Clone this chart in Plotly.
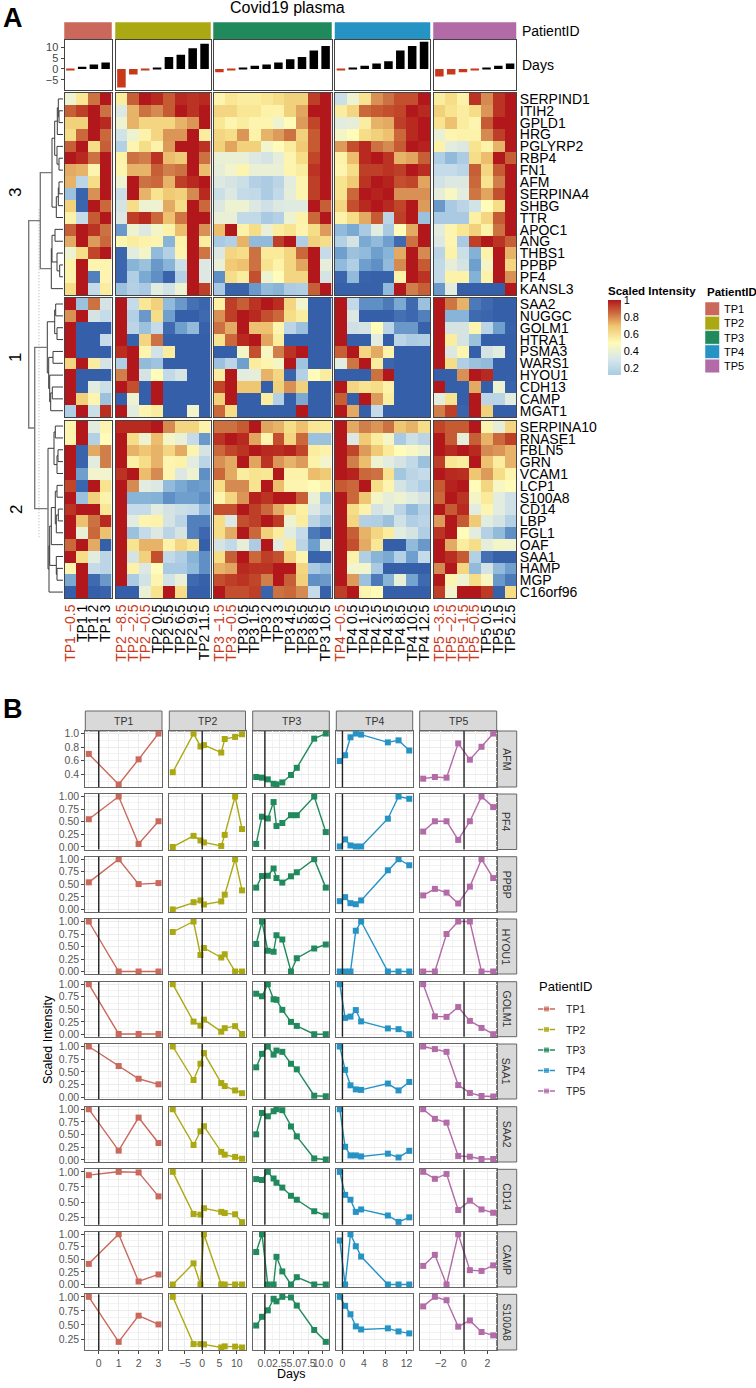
import plotly.graph_objects as go

W, H = 756, 1388

PATIENTS = ["TP1", "TP2", "TP3", "TP4", "TP5"]
PATIENT_COLORS = ["#C9685B", "#ABA913", "#218A5C", "#2693C5", "#B26BA6"]

# sampling days per patient (heatmap columns, bars and line x values)
DAYS_TP1 = [-0.5, 1, 2, 3]
DAYS_TP2 = [-8.5, -2.5, -0.5, 0.5, 5.5, 6.5, 9.5, 11.5]
DAYS_TP3 = [-1.5, -0.5, 0.5, 1.5, 2, 3, 4.5, 5.5, 8.5, 10.5]
DAYS_TP4 = [-0.5, 0.5, 1.5, 2.5, 3.5, 8.5, 10.5, 12.5]
DAYS_TP5 = [-3.5, -2.5, -1.5, -0.5, 0.5, 1.5, 2.5]
DAYS = [DAYS_TP1, DAYS_TP2, DAYS_TP3, DAYS_TP4, DAYS_TP5]

GENES_3 = ["SERPIND1", "ITIH2", "GPLD1", "HRG", "PGLYRP2", "RBP4", "FN1", "AFM", "SERPINA4",
           "SHBG", "TTR", "APOC1", "ANG", "THBS1", "PPBP", "PF4", "KANSL3"]
GENES_1 = ["SAA2", "NUGGC", "GOLM1", "HTRA1", "PSMA3", "WARS1", "HYOU1", "CDH13", "CAMP", "MGAT1"]
GENES_2 = ["SERPINA10", "RNASE1", "FBLN5", "GRN", "VCAM1", "LCP1", "S100A8", "CD14", "LBP",
           "FGL1", "OAF", "SAA1", "HAMP", "MGP", "C16orf96"]
CLUSTERS = ["3", "1", "2"]

# heatmap values, one row per gene in the order above
HEAT_TP1 = [
    [.45, .57, .83, 1], [.87, .93, 1, .83], [.63, .63, 1, .97], [.6, .85, 1, .85], [.87, 1, .6, .87],
    [1, .97, .83, 1], [.72, .7, .52, 1], [.7, .3, .6, 1], [.22, .02, .77, 1], [.63, .03, 1, .85],
    [.53, .33, .88, 1], [.87, 1, .95, .83], [.72, 1, .75, .85], [.45, .6, .92, 1], [.53, 1, .52, .52],
    [.53, 1, .08, .52], [.6, 1, .33, .55],
    [1, .22, .83, .38], [.77, 1, .38, .33], [1, 0, 0, 0], [1, 0, 0, .33], [1, 0, 0, 0],
    [.62, 1, .55, .38], [1, 0, 0, 0], [1, 0, .42, .35], [1, .63, .52, .22], [.27, 1, .35, .96],
    [.52, 1, .42, .52], [.52, 1, .28, .5], [1, .02, .72, .8], [1, .02, .42, .8], [1, .13, .46, .46],
    [.92, .03, 1, .58], [1, .22, .63, .53], [.95, 1, 1, .57], [1, .67, .83, .97], [1, .44, .85, .67],
    [.85, 1, .72, 0], [1, .6, .42, .3], [.52, 1, .33, .3], [.15, 1, .05, .12], [0, 1, 0, .02],
]
HEAT_TP2 = [
    [.55, .87, 1, .97, .88, .97, .95, .97], [.4, .7, .83, .78, .88, 1, .95, 1],
    [.45, .7, .62, .62, .62, .7, .76, 1], [.37, .45, .53, .62, .76, .76, 1, .55],
    [.28, .52, .6, .53, .75, 1, 1, .95], [.53, .83, .8, .95, .68, .65, 1, .83],
    [.52, .7, .7, .87, .8, .83, 1, .68], [.45, 1, .83, .85, .7, .93, .97, 1],
    [.35, 1, .7, .58, .65, .63, .78, .97], [.38, .6, .45, .45, .72, .6, 1, .85],
    [.4, .93, .97, .85, .67, .82, 1, 1], [.12, .45, .4, .47, .53, .68, 1, .77],
    [.52, .55, .53, .52, .18, .53, 1, .55], [.03, .42, .47, .2, .28, .52, 1, .82],
    [.03, .18, .22, .12, .18, .35, 1, .4], [.03, .27, .15, .1, .02, .28, 1, .4],
    [.22, .28, .25, .42, .37, .45, 1, .93],
    [1, .33, .57, .63, .2, .12, .06, .03], [1, .28, .12, .6, .13, 0, 0, .05],
    [1, .3, .22, .33, .05, .13, .2, .01], [1, .01, .62, .83, 0, 0, 0, 0],
    [.96, 1, .52, .37, .55, 0, 0, 0], [.27, 1, .2, .23, 0, 0, 0, 0],
    [.8, 1, .38, .5, .32, .38, 0, 0], [1, .9, 0, 1, 0, 0, 0, 0],
    [0, .45, 0, 1, 0, 0, 0, 0], [1, .42, .52, .55, 0, 0, .46, 0],
    [.97, .97, .97, 1, .78, .62, .62, .53], [1, .6, .45, .68, .47, .44, .33, .12],
    [1, .7, .66, .7, .62, .72, .52, .38], [1, .54, .6, .7, .52, .53, .42, .3],
    [.95, 1, .68, .78, .52, .4, .45, .1], [1, .78, .42, .4, .2, .15, .12, .13],
    [1, .18, .18, .17, .1, .13, .13, .1], [1, .33, .33, .42, .38, .35, .33, .2],
    [1, .42, .52, .53, .38, .3, .08, .08], [1, .22, .33, .4, .3, .38, .08, .04],
    [1, .58, .7, .7, .53, .62, .57, 0], [1, .38, .63, .9, .32, .27, .18, .1],
    [1, .53, .4, .5, .25, .25, .2, .1], [1, .26, .37, .52, .37, .44, .05, .01],
    [0, 0, .44, .58, 1, .6, 0, 0],
]
HEAT_TP3 = [
    [.52, .57, .55, .55, .57, .6, .63, .63, .93, 1], [.62, .62, .57, .57, .53, .53, .63, .73, 1, 1],
    [.57, .52, .55, .52, .52, .45, .5, .75, .92, 1], [.62, .6, .76, .53, .7, .75, .83, .63, .88, 1],
    [.63, .73, .63, .63, .46, .5, .55, .65, .88, 1], [.44, .44, .44, .4, .38, .43, .52, .6, .92, 1],
    [.43, .46, .52, .44, .44, .44, .52, .55, .95, 1], [.4, .38, .35, .28, .26, .3, .42, .52, .93, 1],
    [.35, .4, .33, .32, .26, .32, .43, .52, .93, 1], [.4, .45, .45, .4, .36, .4, .41, .41, 1, .87],
    [.44, .44, .32, .32, .25, .28, .45, .53, .85, 1], [.68, 1, .53, .6, .44, .55, .58, .52, .6, .75],
    [.25, .28, .7, .2, .2, .93, 1, .27, .63, .6], [.4, .62, .6, .83, .56, .56, .62, .85, 1, .33],
    [.44, .65, .67, .83, .58, .53, .62, .73, 1, .43], [.1, .6, .55, .9, .45, .5, .62, .62, 1, .38],
    [.25, .02, .02, .12, .2, .18, .26, .27, .87, 1],
    [.54, .93, .87, .95, 1, .96, .62, .46, 0, 0], [.77, .93, 1, .97, .9, .85, .6, .55, 0, 0],
    [.83, .72, 1, .67, .67, .52, .3, .22, 0, 0], [.58, .85, .97, 1, .73, .55, 0, 0, 0, 0],
    [0, 0, .47, .9, .48, .8, .95, 1, 0, 0], [.22, .3, .13, .55, .52, .47, 1, .23, 0, 0],
    [.55, 1, .42, .43, .7, .62, .02, .28, .5, .55], [.92, 1, .66, .66, 0, .63, .77, .63, 0, 0],
    [.63, 1, 0, 0, .55, .28, 0, .15, 0, 0], [.85, .6, 0, 0, 0, 0, 0, 1, 0, 0],
    [.83, .83, .88, 1, .73, .7, .6, .67, .57, .56], [.95, 1, .97, .73, .52, .9, .62, .85, .22, .22],
    [.85, .92, .95, 1, .97, .96, .98, .92, .55, .53], [.77, .72, 1, .73, .95, .76, .7, .75, .53, .46],
    [.85, .72, .55, .58, .57, 1, .53, .53, .68, .65], [.6, .78, .78, .58, 1, .68, .52, .52, .5, .53],
    [.52, .62, .76, .98, .95, 1, 1, .87, .44, .24], [.9, .9, 1, .93, .85, .72, .6, .54, .4, .32],
    [.6, .4, .9, .93, 1, .94, .45, .55, .3, .22], [.6, .72, 1, .85, .63, .55, .42, .33, .07, .02],
    [.38, .32, .43, .26, 1, .42, .55, .3, .13, .42], [.6, .87, 1, .85, .93, .9, .63, .52, .02, .02],
    [.7, .73, .97, .95, .95, 1, 1, .62, .25, .2], [.9, .93, .95, .92, .8, 1, .87, .63, .1, .12],
    [1, .9, .9, .93, .02, .83, .85, .78, .33, .01],
]
HEAT_TP4 = [
    [.35, .45, .58, .77, .83, .9, .9, 1], [.55, .62, .85, .88, .9, .92, 1, .97],
    [.42, .43, .55, .7, .72, .93, .97, 1], [.47, .5, .6, .63, .67, .85, .97, 1],
    [.75, .9, .97, .83, .78, .88, 1, .98], [.53, .68, .97, 1, .95, .7, .73, .87],
    [.52, .6, .93, .93, .95, .93, 1, .96], [.58, .65, .95, 1, .98, .9, .92, .73],
    [.58, .85, 1, .98, 1, .77, .77, .77], [.62, .9, .97, 1, .97, .92, 1, .75],
    [.53, .6, .72, .88, .3, .93, 1, .22], [.2, .15, .25, .42, .25, .5, .72, 1],
    [.28, .38, .15, .2, .13, .05, .83, 1], [.13, .22, .2, .13, .18, .72, 1, .78],
    [.2, .27, .13, .1, .2, .78, 1, .88], [.03, .2, .02, .01, .01, .53, 1, .95],
    [.01, .01, .01, .01, .2, 1, .8, .87],
    [1, .32, .1, .1, .07, .15, .05, .22], [1, .4, 0, 0, 0, .06, .04, .08],
    [1, .36, .38, .5, .3, .12, .12, .01], [1, 0, 0, .42, 0, .3, .26, .27],
    [.87, 1, .62, .72, .53, 0, 0, 0], [.42, .82, 1, .55, .03, 0, 0, 0],
    [0, 0, 0, .83, 1, 0, 0, 0], [1, .62, .58, .6, .53, 0, 0, 0],
    [.87, 0, 1, .75, .55, 0, 0, 0], [1, .72, 0, .33, 0, 0, 0, 0],
    [1, .72, .8, .76, .83, .66, .7, .6], [1, .4, .65, .55, .47, .25, .35, .3],
    [1, .92, .75, .65, .56, .5, .48, .45], [1, .8, .68, .45, .42, .38, .32, .22],
    [1, .98, .85, .83, .58, .24, .3, .33], [.88, .85, 1, .6, .52, .38, .32, .27],
    [1, .85, .66, .47, .43, .45, .42, .38], [1, .6, .53, .38, .42, .3, .2, .28],
    [1, .62, .28, .27, .22, .36, .27, .3], [1, .87, .7, .62, .55, .42, .38, .27],
    [1, .9, .72, .57, 0, 0, .2, .12], [1, .53, .27, .18, .15, .28, .13, .33],
    [1, .46, .46, .25, 0, 0, 0, 0], [1, .75, .22, .07, .18, .44, .14, .05],
    [.93, 1, .52, .5, 0, 0, 0, 0],
]
HEAT_TP5 = [
    [.55, .6, .53, .95, .78, .95, 1], [.63, .58, .55, .6, .76, .95, 1], [.58, .67, .55, .52, .88, 1, 1],
    [.44, .52, .53, .53, .78, .93, 1], [.53, .42, .4, .58, .53, .7, 1], [.27, .2, .26, .6, .68, 1, .87],
    [.33, .33, .3, .87, .62, .88, 1], [.37, .4, .4, .85, .58, .8, 1], [.43, .48, .42, .82, .73, .9, 1],
    [.12, .25, .3, .37, .5, .6, 1], [.25, .25, .25, .54, .62, .88, 1], [.42, .52, .57, .63, .53, .83, 1],
    [.4, .52, .25, .93, 1, .95, .87], [.3, .53, .35, .17, .53, 1, .7], [.32, .43, .38, .13, .47, 1, .62],
    [.32, .53, .53, .17, .53, 1, .77], [.12, .42, 0, 0, 0, 0, 1],
    [1, .82, .7, .07, .05, 0, 0], [1, .18, .18, .05, .03, 0, 0], [1, .38, .38, .52, .3, .13, .01],
    [1, .55, .38, .22, 0, 0, 0], [1, .4, .52, 0, .38, .42, 0], [1, .6, .27, .22, .2, 0, 0],
    [0, 0, .77, 1, .97, 0, 0], [1, 0, 0, .72, 0, .45, .02], [.42, .58, 0, 1, .3, .3, .42],
    [.8, .93, .02, 1, .63, 0, 0],
    [.92, .88, .88, 1, .52, .43, .62], [1, .88, .43, .87, .7, .85, .93], [1, .97, 1, .97, .78, .76, .7],
    [.93, .57, .55, 1, .67, .55, .7], [1, .97, .96, .66, .75, .6, .52], [.88, .98, 1, .5, .62, .48, .5],
    [.85, 1, .95, .47, .56, .42, .36], [1, .88, .97, .42, .52, .42, .36], [.75, 1, .88, .65, .42, .38, .28],
    [.95, 1, .5, .42, .28, .2, .1], [1, .72, .55, .6, .43, .47, .46], [1, .96, .88, .28, .06, .01, .01],
    [.78, 1, .62, .2, .38, .2, .13], [1, .52, .45, .6, .48, .12, .07], [.93, .46, 1, 1, .94, .01, .6],
]
HEAT = [HEAT_TP1, HEAT_TP2, HEAT_TP3, HEAT_TP4, HEAT_TP5]

HEAT_SCALE = [
    [0, "#3560A9"], [.05, "#3F6AB0"], [.1, "#5F8FC4"], [.16, "#7FAED4"], [.25, "#A9CAE2"],
    [.33, "#C5DBE9"], [.42, "#E2ECDF"], [.5, "#FFFBB9"], [.58, "#F8E490"], [.66, "#EFC671"],
    [.74, "#DFA05E"], [.8, "#D07F4A"], [.87, "#C75F36"], [.94, "#BD3A24"], [1, "#B2171B"],
]
LEGEND_SCALE = [[0, "#A8CBE2"], [.2, "#D5E6EC"], [.43, "#FFFBB9"], [.65, "#EFC671"], [.83, "#CC6A3C"], [1, "#B2171B"]]

# dendrogram: (height, left, right), leaves are row numbers over all 42 genes
TREE_3 = (22.7,
          (11, (8.3, (5.7, (4.7, 0, (4, 1, 2)), 3), (6, 4, (4, 5, 6))),
           (6.7, (4.7, (4, 7, 8), 9), 10)),
          (11.7, (11, (8, 11, 12), (6, 13, (3.3, 14, 15))), 16))
TREE_1 = (15.7,
          (8.3, (7.3, 17, 18), (6, 19, 20)),
          (14.3, (10, 21, 22), (13.3, 23, (12.3, (10.7, 24, 25), 26))))
TREE_2 = (15,
          (9, (7.7, 27, 28), (6, (5, 29, 30), 31)),
          (14, (13.3, (11.7, (7.7, (6, 32, 33), (6.7, (4.7, 34, 35), 36)), 37),
                (6.7, 38, (6, 39, 40))), 41))
TREE = (34.3, TREE_3, (28.3, TREE_1, TREE_2))
CUT_HEIGHT = 24
CUT_ROWS = [9.3, 36.4]

# panel B values, patient by patient in the order TP1..TP5
LINE_AFM = [[.70, .25, .62, 1], [.43, 1, .81, .83, .72, .92, .95, .99],
            [.36, .35, .325, .26, .25, .28, .39, .495, .925, 1],
            [.595, .68, .945, 1, .985, .87, .9, .75], [.335, .36, .35, .855, .615, .805, 1]]
LINE_PF4 = [[.55, 1, .06, .51], [0, .22, .13, .09, .02, .24, 1, .355],
            [.06, .6, .565, .89, .415, .475, .63, .63, 1, .295],
            [.01, .15, .03, .01, .01, .56, 1, .955], [.305, .51, .51, .14, .51, 1, .79]]
LINE_PPBP = [[.54, 1, .505, .525], [0, .145, .18, .1, .16, .295, 1, .38],
             [.435, .665, .67, .815, .625, .535, .66, .74, 1, .435],
             [.165, .245, .125, .105, .18, .78, 1, .88], [.28, .41, .335, .12, .455, 1, .625]]
LINE_HYOU1 = [[1, 0, 0, 0], [.79, 1, .33, .47, .28, .345, 0, 0],
              [.55, 1, .415, .395, .725, .64, 0, .265, .46, .54],
              [0, 0, 0, .815, 1, 0, 0, 0], [0, 0, .75, 1, 1, 0, 0]]
LINE_GOLM1 = [[1, .01, .01, .01], [1, .255, .175, .295, .055, .125, .165, .01],
              [.81, .76, 1, .7, .69, .49, .25, .17, .005, .005],
              [1, .33, .355, .485, .26, .12, .105, .005], [1, .36, .35, .545, .27, .13, .005]]
LINE_SAA1 = [[1, .615, .365, .255], [1, .34, .66, .87, .28, .22, .135, .08],
             [.59, .855, 1, .84, .92, .895, .66, .55, .03, .02],
             [1, .54, .235, .155, .145, .27, .135, .3], [1, .95, .895, .24, .085, .025, .015]]
LINE_SAA2 = [[1, .185, .835, .335], [1, .295, .565, .665, .16, .105, .06, .025],
             [.505, .925, .86, .96, 1, .98, .66, .465, .03, .01],
             [1, .26, .09, .09, .07, .125, .05, .18], [1, .81, .735, .08, .065, .02, .02]]
LINE_CD14 = [[.945, 1, .99, .595], [1, .305, .295, .4, .34, .32, .3, .17],
             [.88, .865, 1, .89, .82, .74, .605, .54, .35, .28],
             [1, .62, .54, .34, .38, .28, .175, .25], [1, .885, .965, .37, .525, .38, .325]]
LINE_CAMP = [[.41, 1, .06, .2], [0, .42, 0, 1, 0, 0, 0, 0],
             [.645, 1, 0, 0, .55, .26, 0, .145, 0, 0],
             [.875, 0, 1, .76, .555, 0, 0, 0], [.37, .59, 0, 1, .285, .27, .38]]
LINE_S100A8 = [[1, .2, .665, .51], [1, .16, .16, .155, .1, .12, .115, .1],
               [.49, .645, .76, .965, .92, 1, .99, .845, .41, .2],
               [1, .84, .69, .475, .42, .44, .385, .35], [.83, 1, .94, .47, .58, .375, .315]]
LINE_GENES = ["AFM", "PF4", "PPBP", "HYOU1", "GOLM1", "SAA1", "SAA2", "CD14", "CAMP", "S100A8"]
LINE_VALUES = [LINE_AFM, LINE_PF4, LINE_PPBP, LINE_HYOU1, LINE_GOLM1, LINE_SAA1, LINE_SAA2,
               LINE_CD14, LINE_CAMP, LINE_S100A8]
LINE_YSTEP = [.2, .25, .25, .25, .25, .25, .25, .25, .25, .25]
LINE_YFORMAT = [".1f", ".2f", ".2f", ".2f", ".2f", ".2f", ".2f", ".2f", ".2f", ".2f"]
LINE_XSTEP = [1, 5, 2.5, 4, 2]
LINE_XFORMAT = ["d", "d", ".1f", "d", "d"]
BAR_TICKS = [-5, 0, 5, 10]

# layout in pixels of the page
FONT = "Liberation Sans"
NEG_RED = "#C8391B"
HEAT_X = [(64.5, 111.5), (115.5, 210.5), (213.5, 331.5), (335, 430), (433.5, 516)]
HEAT_Y = [(93, 295), (298, 417), (421, 598)]
STRIP_Y = (22.5, 39)
BAR_Y = (39.5, 89.5)
LINE_X = [(85.3, 162), (169.3, 245.5), (252.7, 329.3), (336.3, 412.7), (419.7, 496.7)]
LINE_Y = [(731, 787), (794, 849.5), (856.7, 912), (919, 974), (981.7, 1036.7), (1044, 1099),
          (1106.7, 1162), (1169.3, 1224.7), (1231.7, 1287), (1294.3, 1350)]
LINE_STRIP_Y = (711, 731)
LINE_STRIP_X = (496.7, 516.7)

fig = go.Figure()
axes = {}
shapes = []
notes = []
axis_no = 1


def new_axes(xpx, ypx, xopts, yopts):
    """Register a pair of axes placed at the given pixel box."""
    global axis_no
    axis_no += 1
    axes[f"xaxis{axis_no}"] = dict(domain=[xpx[0] / W, xpx[1] / W], anchor=f"y{axis_no}", **xopts)
    axes[f"yaxis{axis_no}"] = dict(domain=[1 - ypx[1] / H, 1 - ypx[0] / H], anchor=f"x{axis_no}", **yopts)
    return f"x{axis_no}", f"y{axis_no}"


def note(px, py, text, size, **kw):
    kw.setdefault("xanchor", "center")
    notes.append(dict(x=px / W, y=1 - py / H, xref="paper", yref="paper", text=text, showarrow=False,
                      font=dict(family=FONT, size=size, color=kw.pop("color", "black")),
                      yanchor="middle", xshift=0, **kw))


def box(xpx, ypx, fill, line, width=1):
    shapes.append(dict(type="rect", xref="paper", yref="paper", x0=xpx[0] / W, x1=xpx[1] / W,
                       y0=1 - ypx[1] / H, y1=1 - ypx[0] / H, fillcolor=fill,
                       line=dict(color=line, width=width), layer="below"))


# --- panel A: annotation strips, day bars and heatmaps
BORDER = dict(showline=True, mirror=True, linecolor="#444444", linewidth=1)
blocks = [GENES_3, GENES_1, GENES_2]
for p, patient in enumerate(PATIENTS):
    n = len(DAYS[p])
    box(HEAT_X[p], STRIP_Y, PATIENT_COLORS[p], PATIENT_COLORS[p], 0.5)

    yopts = dict(range=[-9.4, 13.5], zeroline=False, showgrid=False, **BORDER)
    if p == 0:
        yopts.update(tickvals=BAR_TICKS, ticks="outside", ticklen=3, tickcolor="#444444",
                     tickfont=dict(family=FONT, size=11, color="#444444"))
    else:
        yopts.update(showticklabels=False, ticks="")
    xa, ya = new_axes(HEAT_X[p], BAR_Y, dict(range=[-.5, n - .5], showticklabels=False, ticks="",
                                             showgrid=False, zeroline=False, **BORDER), yopts)
    fig.add_trace(go.Bar(x=list(range(n)), y=DAYS[p], width=.72, xaxis=xa, yaxis=ya, showlegend=False,
                         marker=dict(color=[NEG_RED if d < 0 else "black" for d in DAYS[p]], line_width=0)))

    start = 0
    for b, genes in enumerate(blocks):
        rows = HEAT[p][start:start + len(genes)]
        start += len(genes)
        xopts = dict(range=[-.5, n - .5], showgrid=False, zeroline=False, ticks="", **BORDER)
        if b == 2:
            labels = []
            for d in DAYS[p]:
                text = f"{patient} {d:g}".replace("-", "\u2212")
                labels.append(f'<span style="color:{NEG_RED}">{text}</span>' if d < 0 else text)
            xopts.update(tickmode="array", tickvals=list(range(n)), ticktext=labels, tickangle=-90,
                         tickfont=dict(family=FONT, size=14, color="black"))
        else:
            xopts.update(showticklabels=False)
        yopts = dict(range=[len(genes) - .5, -.5], showgrid=False, zeroline=False, ticks="", **BORDER)
        if p == 4:
            yopts.update(side="right", tickmode="array", tickvals=list(range(len(genes))), ticktext=genes,
                         tickfont=dict(family=FONT, size=14, color="black"))
        else:
            yopts.update(showticklabels=False)
        xa, ya = new_axes(HEAT_X[p], HEAT_Y[b], xopts, yopts)
        fig.add_trace(go.Heatmap(z=rows, zmin=0, zmax=1, colorscale=HEAT_SCALE, showscale=False,
                                 xaxis=xa, yaxis=ya))

# dendrogram drawn from the nested tree
gap = 3.5 / 11.9
limits = [len(GENES_3), len(GENES_3) + len(GENES_1)]


def leaf_pos(row):
    return row + .5 + gap * sum(row >= lim for lim in limits)


links = {False: ([], []), True: ([], [])}


def walk(node):
    if not isinstance(node, tuple):
        return 0, leaf_pos(node)
    h, left, right = node
    h1, y1 = walk(left)
    h2, y2 = walk(right)
    xs, ys = links[h > 20]
    xs += [h1, h, h, h2, None]
    ys += [y1, y1, y2, y2, None]
    return h, (y1 + y2) / 2


walk(TREE)
total_rows = len(GENES_3) + len(GENES_1) + len(GENES_2) + 2 * gap
xa, ya = new_axes((27, 63.5), (HEAT_Y[0][0], HEAT_Y[2][1]),
                  dict(range=[36, -.5], visible=False),
                  dict(range=[total_rows, 0], visible=False))
fig.add_trace(go.Scatter(x=[CUT_HEIGHT, CUT_HEIGHT], y=[leaf_pos(CUT_ROWS[0]), leaf_pos(CUT_ROWS[1])], mode="lines",
                         line=dict(color="#BBBBBB", width=1.2, dash="1px,2px"), xaxis=xa, yaxis=ya, showlegend=False))
fig.add_trace(go.Scatter(x=links[False][0], y=links[False][1], mode="lines",
                         line=dict(color="#3A3A3A", width=1), xaxis=xa, yaxis=ya, showlegend=False))
fig.add_trace(go.Scatter(x=links[True][0], y=links[True][1], mode="lines",
                         line=dict(color="#7A7A7A", width=1.4), xaxis=xa, yaxis=ya, showlegend=False))

for label, py in zip(CLUSTERS, [193, 358, 510]):
    note(16, py, label, 17, textangle=-90)
note(287, 8, "Covid19 plasma", 16)
note(520, 31, "PatientID", 14, xanchor="left")
note(520, 65, "Days", 14, xanchor="left")
note(1, 18, "<b>A</b>", 27, xanchor="left")
note(1, 709, "<b>B</b>", 27, xanchor="left")

# colour key and patient key of panel A (the colour bar's len includes its title)
fig.add_trace(go.Scatter(
    x=[None], y=[None], mode="markers", xaxis=xa, yaxis=ya, showlegend=False,
    marker=dict(color=[.5], cmin=.12, cmax=1, colorscale=LEGEND_SCALE, showscale=True,
                colorbar=dict(x=608 / W, xanchor="left", y=1 - 283 / H, yanchor="top", lenmode="pixels", len=92,
                              thicknessmode="pixels", thickness=13, xpad=0, ypad=0, outlinewidth=0,
                              tickvals=[.2, .4, .6, .8, 1], ticktext=["0.2", "0.4", "0.6", "0.8", "1"],
                              ticks="", ticklabelposition="outside",
                              tickfont=dict(family=FONT, size=11, color="black"),
                              title=dict(text="<b>Scaled Intensity</b>", side="top",
                                         font=dict(family=FONT, size=11.5, color="black"))))))
note(705, 292, "<b>PatientID</b>", 11.5, xanchor="left")
for i, (patient, color) in enumerate(zip(PATIENTS, PATIENT_COLORS)):
    py = 302 + 14.3 * i
    box((705, 719.5), (py, py + 13.6), color, "white", 0.5)
    note(722, py + 7, patient, 11, xanchor="left")

# --- panel B: faceted line charts
GRID = "#EBEBEB"
MINOR_GRID = "#F3F3F3"
for p, patient in enumerate(PATIENTS):
    box(LINE_X[p], LINE_STRIP_Y, "#D9D9D9", "#666666", 1)
    note(sum(LINE_X[p]) / 2, sum(LINE_STRIP_Y) / 2, patient, 10.5, color="#333333")

PANEL_BORDER = dict(showline=True, mirror=True, linecolor="#666666", linewidth=1)
for r, gene in enumerate(LINE_GENES):
    box(LINE_STRIP_X, LINE_Y[r], "#D9D9D9", "#666666", 1)
    note(sum(LINE_STRIP_X) / 2, sum(LINE_Y[r]) / 2, gene, 10.5, color="#333333", textangle=90)
    low = min(min(v) for v in LINE_VALUES[r])
    high = max(max(v) for v in LINE_VALUES[r])
    pad = (high - low) * .05
    for p, patient in enumerate(PATIENTS):
        step = LINE_XSTEP[p]
        pad_x = (DAYS[p][-1] - DAYS[p][0]) * .05
        xopts = dict(range=[DAYS[p][0] - pad_x, DAYS[p][-1] + pad_x], tick0=0, dtick=step, tickmode="linear",
                     tickformat=LINE_XFORMAT[p], gridcolor=GRID, gridwidth=1.4, zeroline=False, tickangle=0,
                     minor=dict(tick0=0, dtick=step / 2, showgrid=True, gridcolor=MINOR_GRID, gridwidth=1),
                     **PANEL_BORDER)
        if r == len(LINE_GENES) - 1:
            xopts.update(ticks="outside", ticklen=3, tickcolor="#444444",
                         tickfont=dict(family=FONT, size=10.5, color="#555555"))
        else:
            xopts.update(showticklabels=False, ticks="")
        yopts = dict(range=[low - pad, high + pad], tick0=0, dtick=LINE_YSTEP[r], tickmode="linear",
                     tickformat=LINE_YFORMAT[r], gridcolor=GRID, gridwidth=1.4, zeroline=False,
                     minor=dict(tick0=0, dtick=LINE_YSTEP[r] / 2, showgrid=True, gridcolor=MINOR_GRID, gridwidth=1),
                     **PANEL_BORDER)
        if p == 0:
            yopts.update(ticks="outside", ticklen=3, tickcolor="#444444",
                         tickfont=dict(family=FONT, size=10.5, color="#555555"))
        else:
            yopts.update(showticklabels=False, ticks="")
        xa, ya = new_axes(LINE_X[p], LINE_Y[r], xopts, yopts)
        shapes.append(dict(type="line", xref=xa, yref=f"{ya} domain", x0=0, x1=0, y0=0, y1=1,
                           line=dict(color="#222222", width=1.4)))
        fig.add_trace(go.Scatter(x=DAYS[p], y=LINE_VALUES[r][p], mode="lines+markers", showlegend=False,
                                 cliponaxis=False, line=dict(color=PATIENT_COLORS[p], width=1.4),
                                 marker=dict(symbol="square", size=6, color=PATIENT_COLORS[p]),
                                 xaxis=xa, yaxis=ya))

note(291, 1374, "Days", 12.5)
note(48, 1040, "Scaled Intensity", 12.5, textangle=-90)

# key of panel B: one short line with a marker in its middle per patient
note(537, 986.5, "PatientID", 13, xanchor="left")
key_x, key_y = new_axes((538, 555), (998.7, 1101.3), dict(range=[0, 1], visible=False),
                        dict(range=[len(PATIENTS) - .5, -.5], visible=False))
for i, (patient, color) in enumerate(zip(PATIENTS, PATIENT_COLORS)):
    fig.add_trace(go.Scatter(x=[0, .5, 1], y=[i, i, i], mode="lines+markers", showlegend=False,
                             line=dict(color=color, width=1.4),
                             marker=dict(symbol="square", size=[0, 6, 0], color=color),
                             xaxis=key_x, yaxis=key_y))
    note(564, 1009 + 20.5 * i, patient, 10.5, xanchor="left", color="#222222")

fig.update_layout(
    width=W, height=H, autosize=False, margin=dict(l=0, r=0, t=0, b=0, autoexpand=False),
    paper_bgcolor="white", plot_bgcolor="white", barmode="overlay", showlegend=False,
    font=dict(family=FONT, color="black"), shapes=shapes, annotations=notes,
    **axes,
)

fig.write_html("out.html", config=dict(displayModeBar=False), post_script="document.body.style.margin='0';")
